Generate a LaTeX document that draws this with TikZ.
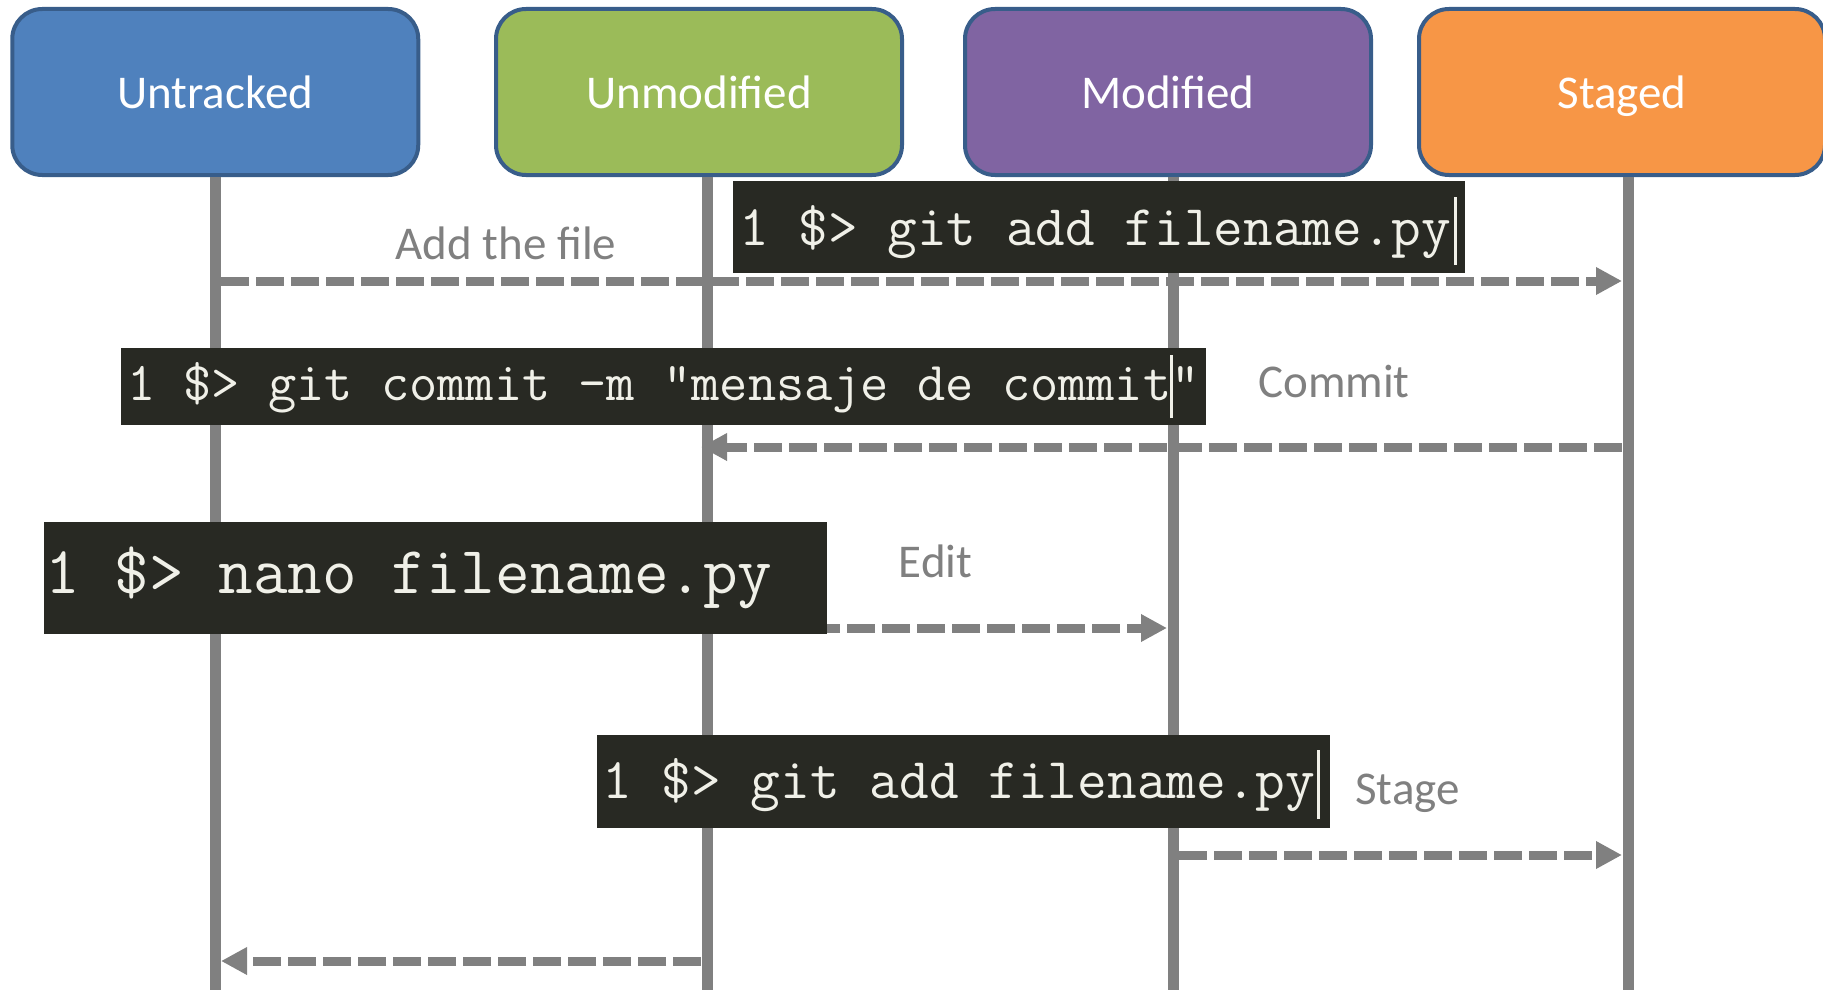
\documentclass[tikz,border=0pt]{standalone}
\usepackage{fontspec}
\newfontfamily\calibri{Carlito}
\usetikzlibrary{arrows.meta}
\definecolor{bluefill}{HTML}{4F81BD}
\definecolor{greenfill}{HTML}{9BBB59}
\definecolor{purplefill}{HTML}{8064A2}
\definecolor{orangefill}{HTML}{F79646}
\definecolor{outline}{HTML}{385D8A}
\definecolor{linegray}{HTML}{808080}
\definecolor{termbg}{HTML}{282923}
\definecolor{termfg}{HTML}{F0F0E8}
\newcommand{\cursorbar}[2]{\rlap{\color{termfg}\rule[-#1pt]{2.5pt}{#2pt}}}
\begin{document}
\begin{tikzpicture}[x=1pt,y=-1pt,
  state/.style={draw=outline, line width=4pt, rounded corners=30pt,
    minimum width=406pt, minimum height=166pt, inner sep=0pt, text=white,
    text height=36pt, text depth=4pt,
    font=\calibri\fontsize{47}{56}\selectfont},
  lifeline/.style={draw=linegray, line width=11pt},
  msg/.style={draw=linegray, line width=9pt, dash pattern=on 28pt off 7pt,
    -{Triangle[length=26pt,width=26pt]}},
  lbl/.style={text=linegray, font=\calibri\fontsize{47}{56}\selectfont,
    anchor=base, inner sep=0pt},
  cmdbox/.style={fill=termbg, text=termfg, inner ysep=0pt, anchor=north west}
]
\useasboundingbox (0,0) rectangle (1823,990);

% state boxes
\node[state, fill=bluefill]   (untracked)  at (215.25,92) {Untracked};
\node[state, fill=greenfill]  (unmodified) at (699,92)    {Unmodified};
\node[state, fill=purplefill] (modified)   at (1168,92)   {Modified};
\node[state, fill=orangefill] (staged)     at (1622,92)   {Staged};

% message end points
\coordinate (addS) at (221,281);   \coordinate (addE) at (1622,281);
\coordinate (comS) at (1622,447);  \coordinate (comE) at (701,447);
\coordinate (ediS) at (707,628);   \coordinate (ediE) at (1167,628);
\coordinate (stgS) at (1179,855);  \coordinate (stgE) at (1622,855);
\coordinate (bakS) at (701,961);   \coordinate (bakE) at (221,961);

% messages
\draw[msg] (addS) -- (addE);
\draw[msg] (comS) -- (comE);
\draw[msg] (ediS) -- (ediE);
\draw[msg] (stgS) -- (stgE);
\draw[msg] (bakS) -- (bakE);

% lifelines
\draw[lifeline] ([xshift=-0.25pt]untracked.south) -- ++(0,814);
\draw[lifeline] ([xshift=8pt]unmodified.south) -- ++(0,814);
\draw[lifeline] ([xshift=5pt]modified.south) -- ++(0,814);
\draw[lifeline] ([xshift=6pt]staged.south) -- ++(0,814);

% labels
\node[lbl] (lAdd)    at (506,259)    {Add the file};
\node[lbl] (lCommit) at (1334,397)   {Commit};
\node[lbl] (lEdit)   at (935.5,577)  {Edit};
\node[lbl] (lStage)  at (1407.5,804) {Stage};

% terminal commands
\node[cmdbox, minimum height=92pt, inner xsep=6pt, text height=46pt, text depth=10pt,
  font=\ttfamily\fontsize{57.6}{60}\selectfont] (cmdAdd) at (733,181)
  {\makebox[720pt][l]{1 \$> git add filename.py\kern3pt\cursorbar{20}{68}}};
\node[cmdbox, minimum height=77pt, inner xsep=6pt, text height=40pt, text depth=13pt,
  font=\ttfamily\fontsize{54.8}{58}\selectfont] (cmdCommit) at (121,348)
  {\makebox[1073pt][l]{1 \$> git commit -m "mensaje de commit\kern-1pt\cursorbar{18}{63}\kern1pt"}};
\node[cmdbox, minimum height=112pt, inner xsep=1.5pt, text height=50pt, text depth=20pt,
  font=\ttfamily\fontsize{67.2}{70}\selectfont] (cmdNano) at (44,522)
  {\makebox[780pt][l]{1 \$> nano filename.py}};
\node[cmdbox, minimum height=93pt, inner xsep=5pt, text height=46pt, text depth=13pt,
  font=\ttfamily\fontsize{57.7}{60}\selectfont] (cmdStage) at (597,735)
  {\makebox[723pt][l]{1 \$> git add filename.py\kern2pt\cursorbar{21}{69}}};
\end{tikzpicture}
\end{document}
